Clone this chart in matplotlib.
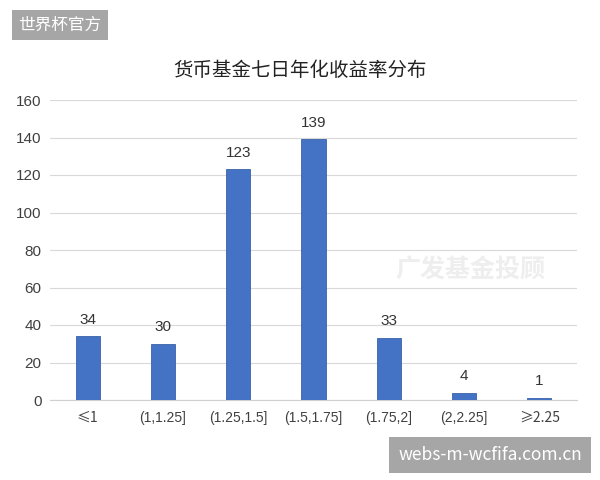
import matplotlib
matplotlib.use("Agg")
import matplotlib.pyplot as plt

categories = ["≤1", "(1,1.25]", "(1.25,1.5]", "(1.5,1.75]", "(1.75,2]", "(2,2.25]", "≥2.25"]
values = [34, 30, 123, 139, 33, 4, 1]
yticks = [0, 20, 40, 60, 80, 100, 120, 140, 160]
title = "货币基金七日年化收益率分布"

plt.rcParams['font.family'] = ['Liberation Sans', 'Noto Sans CJK SC', 'DejaVu Sans']

fig = plt.figure(figsize=(6, 4.8), dpi=100)
ax = fig.add_axes([50/600, 80/480, 527/600, 300/480])

x = list(range(len(categories)))
ax.bar(x, values, width=0.32, color="#4472C4", edgecolor="#3a62a8", linewidth=0.6, zorder=3)
for xi, v in zip(x, values):
    ax.annotate(str(v), (xi, v), xytext=(0, 7), textcoords="offset points",
                ha="center", va="bottom", fontsize=11, color="#333333")

ax.set_xlim(-0.5, len(categories) - 0.5)
ax.set_ylim(0, 160)
ax.set_yticks(yticks)
ax.set_xticks(x)
ax.set_xticklabels(categories, fontsize=10, color="#404040")
for lbl in ax.get_xticklabels():
    if lbl.get_text().startswith(("≤", "≥")):
        lbl.set_family(['Noto Sans CJK SC', 'Liberation Sans'])
ax.tick_params(axis='y', labelsize=11, labelcolor="#404040", length=0, pad=6)
ax.tick_params(axis='x', length=0, pad=8)
ax.grid(axis='y', color="#d9d9d9", linewidth=0.8, zorder=0)
for s in ["top", "right", "left"]:
    ax.spines[s].set_visible(False)
ax.spines["bottom"].set_color("#d0d0d0")
ax.spines["bottom"].set_linewidth(0.8)

fig.text(0.5, 1 - 70/480, title, ha="center", va="center", fontsize=14,
         family=['Noto Sans CJK SC', 'DejaVu Sans'], color="#222222")

# watermarks
fig.text(60/600, 1 - 25/480, "世界杯官方", ha="center", va="center", fontsize=12,
         color="white", family=['Noto Sans CJK SC', 'DejaVu Sans'],
         bbox=dict(boxstyle="square,pad=0.4", facecolor="#a6a6a6", edgecolor="none"))
fig.text(490/600, 1 - 455/480, "webs-m-wcfifa.com.cn", ha="center", va="center", fontsize=12.5,
         color="white", family=['Noto Sans CJK SC', 'DejaVu Sans'],
         bbox=dict(boxstyle="square,pad=0.5", facecolor="#a6a6a6", edgecolor="none"))
fig.text(470/600, 1 - 270/480, "广发基金投顾", ha="center", va="center", fontsize=18,
         color="#eeeeee", weight="bold", family=['Noto Sans CJK SC', 'DejaVu Sans'], zorder=1)

fig.savefig("out.png", dpi=100)
